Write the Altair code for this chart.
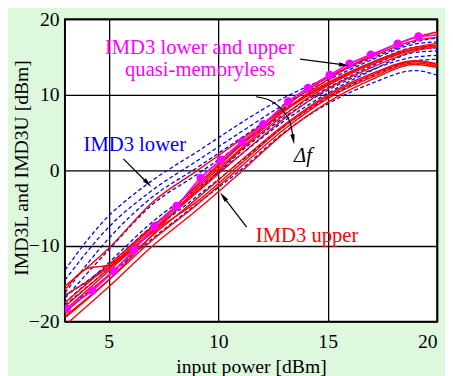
import altair as alt
import pandas as pd

# ---------------- data ----------------
X_C = [3, 5, 7, 9, 11, 13, 15, 17, 19, 20]
X_F = list(range(3, 21))

BLUE_1 = [-13.2, -9.3, -6.0, -3.5, -1.3, 0.6, 2.4, 4.3, 6.2, 8.0, 9.6, 11.0, 12.3, 13.6, 14.8, 16.0, 17.0, 17.5]
BLUE_2 = [-14.5, -7.5, -2.6, 1.2, 5.0, 8.7, 11.9, 14.6, 16.7, 17.0]
BLUE_3 = [-16.2, -9.0, -3.5, 0.3, 4.2, 8.1, 11.4, 14.2, 16.3, 16.5]
BLUE_4 = [-16.9, -10.5, -4.5, -0.6, 3.4, 7.4, 10.9, 13.8, 16.0, 16.2]
BLUE_5 = [-17.5, -12.2, -6.8, -2.5, 2.0, 6.5, 10.2, 13.2, 15.6, 15.8]
BLUE_6 = [-17.8, -13.0, -8.0, -3.5, 1.1, 5.8, 9.6, 12.5, 14.5, 14.7]
BLUE_7 = [-18.4, -13.9, -9.0, -4.5, 0.0, 5.0, 8.8, 11.5, 13.2, 12.6]
BLUE_8 = [-16.6, -12.5, -7.3, -2.9, 2.4, 7.0, 10.6, 13.3, 15.0, 15.2]

RED_1 = [-19.5, -14.5, -8.5, -2.5, 2.8, 7.8, 12.0, 15.2, 17.6, 18.3]
RED_2 = [-15.3, -10.3, -4.2, -0.1, 4.0, 8.0, 11.6, 14.3, 16.3, 16.8]
RED_3_X = [3, 4, 5, 6, 7, 9, 11, 13, 15, 17, 19, 20]
RED_3 = [-15.8, -13.0, -12.5, -10.2, -7.5, -2.2, 3.2, 7.8, 11.4, 14.2, 16.1, 16.6]
RED_4 = [-18.0, -13.0, -8.0, -3.0, 2.0, 6.8, 10.8, 13.6, 15.8, 16.3]
RED_5 = [-18.8, -13.8, -8.6, -3.8, 1.2, 6.0, 10.0, 12.8, 14.5, 14.1]
RED_6 = [-19.3, -14.5, -9.2, -4.6, 0.4, 5.4, 9.5, 12.3, 14.2, 13.8]
RED_7 = [-20.5, -15.4, -10.0, -5.3, -0.3, 4.9, 9.0, 12.0, 14.0, 13.6]
RED_8 = [-17.5, -12.5, -7.4, -2.8, 2.6, 7.3, 11.2, 14.0, 16.0, 16.5]
RED_9 = [-18.5, -13.3, -8.2, -4.2, 0.8, 5.8, 9.8, 12.6, 14.4, 14.0]
RED_10 = [-16.5, -12.8, -8.0, -2.0, 3.4, 8.3, 12.3, 15.0, 17.2, 17.6]

MAG_X = [3.08, 4.25, 5.23, 6.15, 7.09, 8.1, 9.2, 10.12, 11.09, 12.06, 13.2, 14.1, 15.09, 16.0, 16.97, 18.2, 19.15]
MAG_Y = [-18.3, -15.9, -13.3, -10.5, -7.4, -4.7, -1.0, 1.4, 3.8, 6.1, 9.1, 10.9, 12.6, 14.1, 15.3, 16.75, 17.7]
MAG_END_X = [20]
MAG_END_Y = [17.9]

X_TICKS = [5, 10, 15, 20]
Y_TICKS = [-20, -10, 0, 10, 20]

# annotations (data coordinates)
CENTER_TEXT = ["IMD3 lower and upper", "quasi-memoryless"]
CENTER_X = [9.15, 9.17]
CENTER_Y = [16.23, 13.25]
CENTER_COL = ["#ff00ff", "#ff00ff"]

LEFT_TEXT = ["IMD3 lower", "IMD3 upper"]
LEFT_X = [3.85, 11.72]
LEFT_Y = [3.38, -8.66]
LEFT_COL = ["#0000ff", "#ff0000"]

DF_TEXT = ["\u0394f"]
DF_X = [13.87]
DF_Y = [1.95]

ARROW_X = [13.74, 5.67, 11.30]
ARROW_Y = [14.71, 1.52, -7.49]
ARROW_X2 = [15.75, 6.79, 10.23]
ARROW_Y2 = [13.94, -1.73, -3.47]
ARROW_ANGLE = [97.6, 135, 322]

CURVE_X = [11.72, 12.4, 12.94, 13.3, 13.43]
CURVE_Y = [9.74, 9.2, 7.9, 6.2, 4.1]
CURVE_HEAD_ANGLE = [170]

# ---------------- tables ----------------
def long(name, xs, ys):
    return pd.DataFrame({"x": xs, "y": ys, "s": name})

blue = pd.concat([
    long("b1", X_F, BLUE_1), long("b2", X_C, BLUE_2), long("b3", X_C, BLUE_3),
    long("b4", X_C, BLUE_4), long("b5", X_C, BLUE_5), long("b6", X_C, BLUE_6),
    long("b7", X_C, BLUE_7), long("b8", X_C, BLUE_8),
])
red = pd.concat([
    long("r1", X_C, RED_1), long("r2", X_C, RED_2), long("r3", RED_3_X, RED_3),
    long("r4", X_C, RED_4), long("r5", X_C, RED_5), long("r6", X_C, RED_6),
    long("r7", X_C, RED_7), long("r8", X_C, RED_8), long("r9", X_C, RED_9),
    long("r10", X_C, RED_10),
])
mag_pts = pd.DataFrame({"x": MAG_X, "y": MAG_Y})
mag_line = pd.DataFrame({"x": [3.0] + MAG_X + MAG_END_X, "y": [-18.5] + MAG_Y + MAG_END_Y})

xs = alt.Scale(domain=[3, 20], nice=False, zero=False)
ys = alt.Scale(domain=[-20, 20], nice=False, zero=False)

X = alt.X("x:Q", scale=xs, axis=alt.Axis(values=X_TICKS, title="input power [dBm]"))
Y = alt.Y("y:Q", scale=ys, axis=alt.Axis(values=Y_TICKS, title="IMD3L and IMD3U [dBm]",
                                         titleX=-44, titleY=151, titleBaseline="middle",
                                         titleAlign="center", titleAngle=270))

base_grid = alt.Chart(pd.DataFrame({"x": [3], "y": [-20]})).mark_point(opacity=0).encode(x=X, y=Y)

blue_l = alt.Chart(blue).mark_line(color="#0000ff", strokeWidth=1.3, strokeDash=[4, 2.5],
                                   interpolate="monotone", clip=True).encode(
    x=alt.X("x:Q", scale=xs), y=alt.Y("y:Q", scale=ys), detail="s:N")
red_l = alt.Chart(red).mark_line(color="#ff0000", strokeWidth=1.4,
                                 interpolate="monotone", clip=True).encode(
    x=alt.X("x:Q", scale=xs), y=alt.Y("y:Q", scale=ys), detail="s:N")
mag_l = alt.Chart(mag_line).mark_line(color="#ff00ff", strokeWidth=1.8,
                                      interpolate="monotone", clip=True).encode(
    x=alt.X("x:Q", scale=xs), y=alt.Y("y:Q", scale=ys))
mag_p = alt.Chart(mag_pts).mark_circle(color="#ff00ff", size=75, opacity=1, clip=True).encode(
    x=alt.X("x:Q", scale=xs), y=alt.Y("y:Q", scale=ys))

FONT = "Liberation Serif, DejaVu Serif, serif"
ctext = alt.Chart(pd.DataFrame({"x": CENTER_X, "y": CENTER_Y, "t": CENTER_TEXT, "c": CENTER_COL})).mark_text(
    font=FONT, fontSize=21, align="center", baseline="middle").encode(
    x=alt.X("x:Q", scale=xs), y=alt.Y("y:Q", scale=ys), text="t:N", color=alt.Color("c:N", scale=None))
ltext = alt.Chart(pd.DataFrame({"x": LEFT_X, "y": LEFT_Y, "t": LEFT_TEXT, "c": LEFT_COL})).mark_text(
    font=FONT, fontSize=21, align="left", baseline="middle").encode(
    x=alt.X("x:Q", scale=xs), y=alt.Y("y:Q", scale=ys), text="t:N", color=alt.Color("c:N", scale=None))
dftext = alt.Chart(pd.DataFrame({"x": DF_X, "y": DF_Y, "t": DF_TEXT})).mark_text(
    font=FONT, fontSize=21, fontStyle="italic", align="center", baseline="middle", color="black").encode(
    x=alt.X("x:Q", scale=xs), y=alt.Y("y:Q", scale=ys), text="t:N")

arr_df = pd.DataFrame({"x": ARROW_X, "y": ARROW_Y, "x2": ARROW_X2, "y2": ARROW_Y2, "a": ARROW_ANGLE})
arrows = alt.Chart(arr_df).mark_rule(color="black", strokeWidth=1.3).encode(
    x=alt.X("x:Q", scale=xs), y=alt.Y("y:Q", scale=ys), x2="x2:Q", y2="y2:Q")
HEAD = "M0,-1L0.42,1L-0.42,1Z"
heads = alt.Chart(arr_df).mark_point(shape=HEAD, filled=True, color="black", size=110, opacity=1).encode(
    x=alt.X("x2:Q", scale=xs), y=alt.Y("y2:Q", scale=ys), angle=alt.Angle("a:Q", scale=None))

curve_df = pd.DataFrame({"x": CURVE_X, "y": CURVE_Y})
curve = alt.Chart(curve_df).mark_line(color="black", strokeWidth=1.2, interpolate="monotone").encode(
    x=alt.X("x:Q", scale=xs), y=alt.Y("y:Q", scale=ys))
chead_df = pd.DataFrame({"x": CURVE_X[-1:], "y": CURVE_Y[-1:], "a": CURVE_HEAD_ANGLE})
chead = alt.Chart(chead_df).mark_point(shape=HEAD, filled=True, color="black", size=110, opacity=1).encode(
    x=alt.X("x:Q", scale=xs), y=alt.Y("y:Q", scale=ys), angle=alt.Angle("a:Q", scale=None))

chart = alt.layer(base_grid, blue_l, red_l, mag_l, mag_p, arrows, heads, curve, chead,
                  ctext, ltext, dftext).properties(
    width=379, height=308,
    autosize=alt.AutoSizeParams(type="none"),
    padding={"left": 58, "top": 8, "right": 8, "bottom": 52},
    background="#ddf8dd",
).configure_view(
    fill="white", stroke="black", strokeWidth=2
).configure_axis(
    grid=True, gridColor="black", gridWidth=1.3, gridOpacity=1,
    domain=False, ticks=False,
    labelFont=FONT, labelFontSize=20, labelColor="black",
    titleFont=FONT, titleFontSize=20, titleFontWeight="normal", titleColor="black",
).configure_axisX(
    labelPadding=10, titlePadding=6
).configure_axisY(
    labelPadding=6
)

chart.save("out.html", embed_options={"renderer": "svg", "actions": False})
